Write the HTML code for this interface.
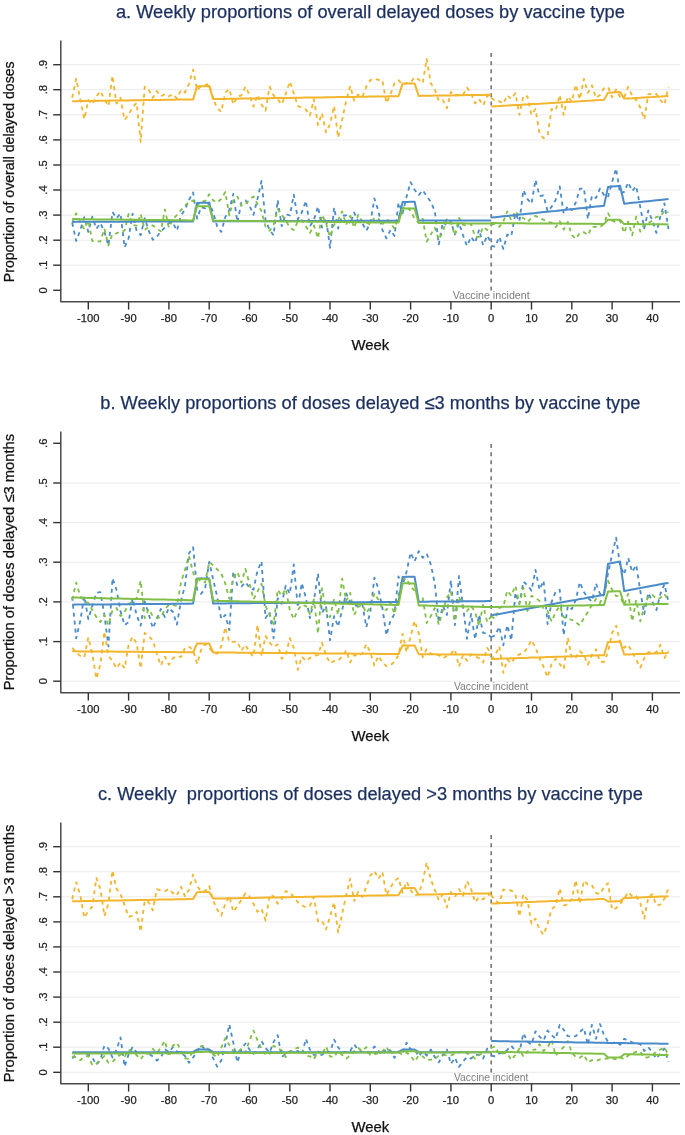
<!DOCTYPE html>
<html><head><meta charset="utf-8"><style>
html,body{margin:0;padding:0;background:#fff;}
svg{display:block;will-change:transform;}
text{font-family:"Liberation Sans",sans-serif;}
.tk{font-size:11.2px;fill:#222;stroke:#222;stroke-width:0.25px;}
.vi{font-size:11.1px;fill:#7d7d7d;}
.wk{font-size:14.9px;fill:#111;stroke:#111;stroke-width:0.25px;}
.yt{fill:#111;stroke:#111;stroke-width:0.25px;}
.ti{font-size:18.25px;fill:#1b2f5e;stroke:#1b2f5e;stroke-width:0.25px;}
</style></head><body>
<svg width="685" height="1135" viewBox="0 0 685 1135">
<rect width="685" height="1135" fill="#fff"/>
<line x1="61.5" x2="680" y1="265.2" y2="265.2" stroke="#eaeaea" stroke-width="1"/>
<line x1="61.5" x2="680" y1="240.2" y2="240.2" stroke="#eaeaea" stroke-width="1"/>
<line x1="61.5" x2="680" y1="215.1" y2="215.1" stroke="#eaeaea" stroke-width="1"/>
<line x1="61.5" x2="680" y1="190.0" y2="190.0" stroke="#eaeaea" stroke-width="1"/>
<line x1="61.5" x2="680" y1="165.0" y2="165.0" stroke="#eaeaea" stroke-width="1"/>
<line x1="61.5" x2="680" y1="139.9" y2="139.9" stroke="#eaeaea" stroke-width="1"/>
<line x1="61.5" x2="680" y1="114.8" y2="114.8" stroke="#eaeaea" stroke-width="1"/>
<line x1="61.5" x2="680" y1="89.7" y2="89.7" stroke="#eaeaea" stroke-width="1"/>
<line x1="61.5" x2="680" y1="64.7" y2="64.7" stroke="#eaeaea" stroke-width="1"/>
<line x1="491.2" x2="491.2" y1="53.1" y2="290.6" stroke="#7a7a7a" stroke-width="1.7" stroke-dasharray="4 4.05"/>
<polyline points="72.2,97.8 76.2,78.6 80.2,99.2 84.3,119.1 88.3,100.0 92.3,104.4 96.4,96.3 100.4,91.1 104.4,99.2 108.4,105.9 112.5,75.6 116.5,103.7 120.5,97.8 124.6,119.9 128.6,114.7 132.6,107.3 136.6,102.9 140.7,142.0 144.7,86.7 148.7,89.6 152.8,97.8 156.8,91.1 160.8,96.3 164.9,94.1 168.9,96.3 172.9,94.1 176.9,98.5 181.0,90.1 185.0,92.6 189.0,83.8 193.1,69.7 197.1,90.4 201.1,86.0 205.1,85.2 209.2,83.8 213.2,99.2 217.2,108.1 221.3,111.8 225.3,92.6 229.3,88.9 233.3,104.4 237.4,96.3 241.4,95.5 245.4,86.7 249.5,94.8 253.5,106.6 257.5,94.8 261.5,104.4 265.6,110.7 269.6,86.7 273.6,95.5 277.7,99.2 281.7,104.4 285.7,94.1 289.8,81.5 293.8,93.3 297.8,105.9 301.8,107.8 305.9,109.6 309.9,115.5 313.9,99.2 318.0,125.0 322.0,113.2 326.0,132.4 330.0,124.3 334.1,105.9 338.1,137.6 342.1,119.9 346.2,100.7 350.2,86.0 354.2,100.7 358.2,94.5 362.3,97.0 366.3,86.7 370.3,80.1 374.4,78.8 378.4,79.9 382.4,80.2 386.4,103.1 390.5,94.2 394.5,83.2 398.5,80.2 402.6,84.6 406.6,83.2 410.6,82.4 414.6,77.3 418.7,79.5 422.7,83.2 426.7,58.8 430.8,83.2 434.8,89.5 438.8,100.9 442.9,100.1 446.9,108.2 450.9,92.0 454.9,95.7 459.0,95.0 463.0,95.0 467.0,87.6 471.1,93.5 475.1,103.4 479.1,99.2 483.1,105.4 487.2,96.3 491.2,93.9" fill="none" stroke="#f2b52b" stroke-width="1.8" stroke-linejoin="round" stroke-dasharray="4 4"/>
<polyline points="491.2,97.9 495.2,100.9 499.3,101.3 503.3,103.7 507.3,95.3 511.3,99.0 515.4,93.1 519.4,114.9 523.4,95.7 527.5,96.4 531.5,114.9 535.5,109.0 539.5,133.3 543.6,138.2 547.6,135.5 551.6,109.0 555.7,110.5 559.7,95.0 563.7,114.9 567.8,96.4 571.8,101.6 575.8,84.6 579.8,99.4 583.9,78.8 587.9,92.8 591.9,85.4 596.0,97.9 600.0,95.0 604.0,88.3 608.0,86.9 612.1,97.2 616.1,89.5 620.1,97.2 624.2,97.2 628.2,86.9 632.2,95.7 636.2,100.1 640.3,107.5 644.3,119.3 648.3,94.2 652.4,94.2 656.4,93.9 660.4,100.1 664.4,104.6 668.5,86.9" fill="none" stroke="#f2b52b" stroke-width="1.8" stroke-linejoin="round" stroke-dasharray="4 4"/>
<polyline points="72.2,222.8 76.2,241.0 80.2,230.4 84.3,217.1 88.3,231.9 92.3,216.7 96.4,228.8 100.4,223.2 104.4,231.9 108.4,245.5 112.5,212.1 116.5,218.2 120.5,213.6 124.6,247.4 128.6,238.3 132.6,213.6 136.6,230.7 140.7,235.2 144.7,218.2 148.7,230.7 152.8,239.8 156.8,236.8 160.8,231.4 164.9,227.6 168.9,223.1 172.9,222.8 176.9,230.7 181.0,215.5 185.0,209.5 189.0,200.0 193.1,192.4 197.1,218.6 201.1,207.2 205.1,208.3 209.2,202.6 213.2,212.5 217.2,226.6 221.3,231.9 225.3,217.1 229.3,210.2 233.3,193.9 237.4,222.4 241.4,202.6 245.4,200.4 249.5,205.7 253.5,214.8 257.5,198.8 261.5,181.0 265.6,220.1 269.6,230.0 273.6,235.3 277.7,200.0 281.7,226.2 285.7,214.0 289.8,215.5 293.8,194.7 297.8,219.3 301.8,212.5 305.9,200.7 309.9,226.2 313.9,220.1 318.0,206.4 322.0,227.7 326.0,217.8 330.0,247.8 334.1,207.6 338.1,228.5 342.1,215.5 346.2,215.5 350.2,223.9 354.2,212.5 358.2,221.6 362.3,223.1 366.3,230.7 370.3,223.1 374.4,198.5 378.4,211.0 382.4,230.0 386.4,238.3 390.5,230.0 394.5,236.0 398.5,202.6 402.6,213.3 406.6,196.6 410.6,182.1 414.6,189.7 418.7,195.1 422.7,190.1 426.7,196.2 430.8,201.9 434.8,211.0 438.8,244.4 442.9,221.6 446.9,225.8 450.9,221.6 454.9,234.5 459.0,223.1 463.0,235.3 467.0,245.9 471.1,236.8 475.1,242.9 479.1,229.6 483.1,245.2 487.2,235.7 491.2,242.9" fill="none" stroke="#4a8bca" stroke-width="1.8" stroke-linejoin="round" stroke-dasharray="4 4"/>
<polyline points="491.2,245.9 495.2,246.7 499.3,236.8 503.3,248.9 507.3,234.5 511.3,236.0 515.4,213.3 519.4,221.6 523.4,190.1 527.5,199.2 531.5,203.7 535.5,179.8 539.5,196.1 543.6,195.4 547.6,211.3 551.6,206.8 555.7,199.9 559.7,186.3 563.7,213.6 567.8,206.0 571.8,210.1 575.8,202.5 579.8,188.8 583.9,188.1 587.9,219.2 591.9,195.7 596.0,198.0 600.0,188.5 604.0,194.9 608.0,197.2 612.1,182.0 616.1,168.4 620.1,193.4 624.2,191.9 628.2,182.4 632.2,191.1 636.2,186.2 640.3,207.1 644.3,228.3 648.3,210.5 652.4,220.7 656.4,232.9 660.4,216.2 664.4,203.3 668.5,229.1" fill="none" stroke="#4a8bca" stroke-width="1.8" stroke-linejoin="round" stroke-dasharray="4 4"/>
<polyline points="72.2,222.8 76.2,213.3 80.2,221.3 84.3,229.2 88.3,220.5 92.3,241.0 96.4,241.4 100.4,241.4 104.4,228.8 108.4,245.5 112.5,233.8 116.5,233.4 120.5,231.4 124.6,230.7 128.6,214.0 132.6,225.0 136.6,225.7 140.7,214.0 144.7,229.9 148.7,226.9 152.8,225.4 156.8,228.4 160.8,231.4 164.9,209.4 168.9,227.7 172.9,219.0 176.9,215.2 181.0,210.2 185.0,205.7 189.0,201.9 193.1,200.4 197.1,205.7 201.1,201.1 205.1,201.1 209.2,194.3 213.2,200.4 217.2,202.6 221.3,198.8 225.3,192.0 229.3,215.5 233.3,200.4 237.4,196.6 241.4,205.7 245.4,204.9 249.5,199.2 253.5,196.6 257.5,204.2 261.5,211.0 265.6,226.9 269.6,230.7 273.6,224.7 277.7,209.1 281.7,214.8 285.7,220.1 289.8,227.7 293.8,230.0 297.8,221.6 301.8,220.1 305.9,226.2 309.9,233.0 313.9,225.4 318.0,238.3 322.0,214.8 326.0,223.1 330.0,236.8 334.1,224.7 338.1,220.1 342.1,211.4 346.2,224.7 350.2,215.9 354.2,227.7 358.2,214.8 362.3,221.6 366.3,222.4 370.3,224.7 374.4,217.8 378.4,218.6 382.4,224.7 386.4,218.6 390.5,223.1 394.5,228.5 398.5,217.1 402.6,208.0 406.6,206.4 410.6,211.0 414.6,218.6 418.7,223.1 422.7,218.6 426.7,241.7 430.8,234.5 434.8,227.7 438.8,239.8 442.9,231.5 446.9,218.6 450.9,222.4 454.9,235.3 459.0,217.8 463.0,224.7 467.0,225.8 471.1,223.9 475.1,236.8 479.1,236.8 483.1,226.9 487.2,230.0 491.2,226.9" fill="none" stroke="#80bf45" stroke-width="1.8" stroke-linejoin="round" stroke-dasharray="4 4"/>
<polyline points="491.2,224.7 495.2,223.9 499.3,226.9 503.3,221.6 507.3,211.4 511.3,220.1 515.4,211.0 519.4,217.1 523.4,218.1 527.5,221.9 531.5,218.1 535.5,215.9 539.5,218.1 543.6,219.7 547.6,221.9 551.6,222.7 555.7,227.2 559.7,221.2 563.7,229.5 567.8,221.9 571.8,235.2 575.8,238.9 579.8,232.9 583.9,232.1 587.9,235.2 591.9,226.8 596.0,226.8 600.0,227.2 604.0,223.8 608.0,213.1 612.1,220.7 616.1,222.2 620.1,220.7 624.2,232.9 628.2,221.5 632.2,235.2 636.2,216.6 640.3,231.7 644.3,224.5 648.3,223.0 652.4,220.7 656.4,216.9 660.4,216.6 664.4,210.9 668.5,212.4" fill="none" stroke="#80bf45" stroke-width="1.8" stroke-linejoin="round" stroke-dasharray="4 4"/>
<polyline points="72.2,101.3 76.2,101.2 80.2,101.1 84.3,101.1 88.3,101.0 92.3,101.0 96.4,100.9 100.4,100.8 104.4,100.8 108.4,100.7 112.5,100.6 116.5,100.6 120.5,100.5 124.6,100.5 128.6,100.4 132.6,100.3 136.6,100.3 140.7,100.2 144.7,100.1 148.7,100.1 152.8,100.0 156.8,100.0 160.8,99.9 164.9,99.8 168.9,99.8 172.9,99.7 176.9,99.6 181.0,99.6 185.0,99.5 189.0,99.5 193.1,99.4 197.1,86.3 201.1,86.2 205.1,86.2 209.2,86.1 213.2,99.1 217.2,99.0 221.3,99.0 225.3,98.9 229.3,98.8 233.3,98.8 237.4,98.7 241.4,98.6 245.4,98.6 249.5,98.5 253.5,98.5 257.5,98.4 261.5,98.3 265.6,98.3 269.6,98.2 273.6,98.1 277.7,98.1 281.7,98.0 285.7,98.0 289.8,97.9 293.8,97.8 297.8,97.8 301.8,97.7 305.9,97.6 309.9,97.6 313.9,97.5 318.0,97.4 322.0,97.4 326.0,97.3 330.0,97.3 334.1,97.2 338.1,97.1 342.1,97.1 346.2,97.0 350.2,96.9 354.2,96.9 358.2,96.8 362.3,96.8 366.3,96.7 370.3,96.6 374.4,96.6 378.4,96.5 382.4,96.4 386.4,96.4 390.5,96.3 394.5,96.3 398.5,96.2 402.6,83.6 406.6,83.5 410.6,83.5 414.6,83.4 418.7,95.9 422.7,95.8 426.7,95.8 430.8,95.7 434.8,95.6 438.8,95.6 442.9,95.5 446.9,95.4 450.9,95.4 454.9,95.3 459.0,95.3 463.0,95.2 467.0,95.1 471.1,95.1 475.1,95.0 479.1,94.9 483.1,94.9 487.2,94.8 491.2,94.8" fill="none" stroke="#f2b52b" stroke-width="2" stroke-linejoin="round"/>
<polyline points="491.2,106.5 495.2,106.3 499.3,106.1 503.3,105.8 507.3,105.6 511.3,105.3 515.4,105.1 519.4,104.9 523.4,104.6 527.5,104.4 531.5,104.1 535.5,103.9 539.5,103.7 543.6,103.4 547.6,103.2 551.6,102.9 555.7,102.7 559.7,102.5 563.7,102.2 567.8,102.0 571.8,101.8 575.8,101.5 579.8,101.3 583.9,101.0 587.9,100.8 591.9,100.6 596.0,100.3 600.0,100.1 604.0,99.8 608.0,92.8 612.1,92.6 616.1,92.3 620.1,92.1 624.2,98.6 628.2,98.4 632.2,98.2 636.2,97.9 640.3,97.7 644.3,97.4 648.3,97.2 652.4,97.0 656.4,96.7 660.4,96.5 664.4,96.2 668.5,96.0" fill="none" stroke="#f2b52b" stroke-width="2" stroke-linejoin="round"/>
<polyline points="72.2,221.9 76.2,221.8 80.2,221.8 84.3,221.8 88.3,221.8 92.3,221.8 96.4,221.8 100.4,221.8 104.4,221.7 108.4,221.7 112.5,221.7 116.5,221.7 120.5,221.7 124.6,221.7 128.6,221.7 132.6,221.6 136.6,221.6 140.7,221.6 144.7,221.6 148.7,221.6 152.8,221.6 156.8,221.6 160.8,221.5 164.9,221.5 168.9,221.5 172.9,221.5 176.9,221.5 181.0,221.5 185.0,221.5 189.0,221.4 193.1,221.4 197.1,202.9 201.1,202.8 205.1,202.8 209.2,202.8 213.2,221.4 217.2,221.3 221.3,221.3 225.3,221.3 229.3,221.3 233.3,221.3 237.4,221.3 241.4,221.3 245.4,221.2 249.5,221.2 253.5,221.2 257.5,221.2 261.5,221.2 265.6,221.2 269.6,221.2 273.6,221.1 277.7,221.1 281.7,221.1 285.7,221.1 289.8,221.1 293.8,221.1 297.8,221.0 301.8,221.0 305.9,221.0 309.9,221.0 313.9,221.0 318.0,221.0 322.0,221.0 326.0,220.9 330.0,220.9 334.1,220.9 338.1,220.9 342.1,220.9 346.2,220.9 350.2,220.9 354.2,220.8 358.2,220.8 362.3,220.8 366.3,220.8 370.3,220.8 374.4,220.8 378.4,220.8 382.4,220.7 386.4,220.7 390.5,220.7 394.5,220.7 398.5,220.7 402.6,201.9 406.6,201.9 410.6,201.8 414.6,201.8 418.7,220.6 422.7,220.6 426.7,220.6 430.8,220.6 434.8,220.6 438.8,220.5 442.9,220.5 446.9,220.5 450.9,220.5 454.9,220.5 459.0,220.5 463.0,220.5 467.0,220.4 471.1,220.4 475.1,220.4 479.1,220.4 483.1,220.4 487.2,220.4 491.2,220.4" fill="none" stroke="#4a8bca" stroke-width="2" stroke-linejoin="round"/>
<polyline points="491.2,217.6 495.2,217.2 499.3,216.8 503.3,216.3 507.3,215.9 511.3,215.5 515.4,215.1 519.4,214.6 523.4,214.2 527.5,213.8 531.5,213.4 535.5,213.0 539.5,212.5 543.6,212.1 547.6,211.7 551.6,211.3 555.7,210.9 559.7,210.4 563.7,210.0 567.8,209.6 571.8,209.2 575.8,208.7 579.8,208.3 583.9,207.9 587.9,207.5 591.9,207.1 596.0,206.6 600.0,206.2 604.0,205.8 608.0,187.1 612.1,186.6 616.1,186.2 620.1,185.8 624.2,203.7 628.2,203.3 632.2,202.8 636.2,202.4 640.3,202.0 644.3,201.6 648.3,201.2 652.4,200.7 656.4,200.3 660.4,199.9 664.4,199.5 668.5,199.0" fill="none" stroke="#4a8bca" stroke-width="2" stroke-linejoin="round"/>
<polyline points="72.2,219.1 76.2,219.1 80.2,219.2 84.3,219.2 88.3,219.3 92.3,219.3 96.4,219.4 100.4,219.4 104.4,219.4 108.4,219.5 112.5,219.5 116.5,219.6 120.5,219.6 124.6,219.7 128.6,219.7 132.6,219.8 136.6,219.8 140.7,219.8 144.7,219.9 148.7,219.9 152.8,220.0 156.8,220.0 160.8,220.1 164.9,220.1 168.9,220.1 172.9,220.2 176.9,220.2 181.0,220.3 185.0,220.3 189.0,220.4 193.1,220.4 197.1,206.2 201.1,206.2 205.1,206.2 209.2,206.3 213.2,220.6 217.2,220.7 221.3,220.7 225.3,220.8 229.3,220.8 233.3,220.8 237.4,220.9 241.4,220.9 245.4,221.0 249.5,221.0 253.5,221.1 257.5,221.1 261.5,221.1 265.6,221.2 269.6,221.2 273.6,221.3 277.7,221.3 281.7,221.4 285.7,221.4 289.8,221.4 293.8,221.5 297.8,221.5 301.8,221.6 305.9,221.6 309.9,221.7 313.9,221.7 318.0,221.7 322.0,221.8 326.0,221.8 330.0,221.9 334.1,221.9 338.1,222.0 342.1,222.0 346.2,222.1 350.2,222.1 354.2,222.1 358.2,222.2 362.3,222.2 366.3,222.3 370.3,222.3 374.4,222.4 378.4,222.4 382.4,222.4 386.4,222.5 390.5,222.5 394.5,222.6 398.5,222.6 402.6,208.4 406.6,208.4 410.6,208.5 414.6,208.5 418.7,222.8 422.7,222.9 426.7,222.9 430.8,223.0 434.8,223.0 438.8,223.0 442.9,223.1 446.9,223.1 450.9,223.2 454.9,223.2 459.0,223.3 463.0,223.3 467.0,223.4 471.1,223.4 475.1,223.4 479.1,223.5 483.1,223.5 487.2,223.6 491.2,223.6" fill="none" stroke="#80bf45" stroke-width="2" stroke-linejoin="round"/>
<polyline points="491.2,223.1 495.2,223.1 499.3,223.2 503.3,223.2 507.3,223.2 511.3,223.3 515.4,223.3 519.4,223.3 523.4,223.3 527.5,223.4 531.5,223.4 535.5,223.4 539.5,223.5 543.6,223.5 547.6,223.5 551.6,223.5 555.7,223.6 559.7,223.6 563.7,223.6 567.8,223.7 571.8,223.7 575.8,223.7 579.8,223.7 583.9,223.8 587.9,223.8 591.9,223.8 596.0,223.9 600.0,223.9 604.0,223.9 608.0,219.7 612.1,219.7 616.1,219.7 620.1,219.8 624.2,224.1 628.2,224.1 632.2,224.1 636.2,224.1 640.3,224.2 644.3,224.2 648.3,224.2 652.4,224.3 656.4,224.3 660.4,224.3 664.4,224.3 668.5,224.4" fill="none" stroke="#80bf45" stroke-width="2" stroke-linejoin="round"/>
<path d="M60.8,40.5 V301.8 H680" fill="none" stroke="#4a4a4a" stroke-width="1.5" stroke-linejoin="round"/>
<line x1="53.2" x2="60.8" y1="290.3" y2="290.3" stroke="#333" stroke-width="1.4"/>
<text transform="translate(47.3,290.3) rotate(-90)" text-anchor="middle" class="tk">0</text>
<line x1="53.2" x2="60.8" y1="265.2" y2="265.2" stroke="#333" stroke-width="1.4"/>
<text transform="translate(47.3,265.2) rotate(-90)" text-anchor="middle" class="tk">.1</text>
<line x1="53.2" x2="60.8" y1="240.2" y2="240.2" stroke="#333" stroke-width="1.4"/>
<text transform="translate(47.3,240.2) rotate(-90)" text-anchor="middle" class="tk">.2</text>
<line x1="53.2" x2="60.8" y1="215.1" y2="215.1" stroke="#333" stroke-width="1.4"/>
<text transform="translate(47.3,215.1) rotate(-90)" text-anchor="middle" class="tk">.3</text>
<line x1="53.2" x2="60.8" y1="190.0" y2="190.0" stroke="#333" stroke-width="1.4"/>
<text transform="translate(47.3,190.0) rotate(-90)" text-anchor="middle" class="tk">.4</text>
<line x1="53.2" x2="60.8" y1="165.0" y2="165.0" stroke="#333" stroke-width="1.4"/>
<text transform="translate(47.3,165.0) rotate(-90)" text-anchor="middle" class="tk">.5</text>
<line x1="53.2" x2="60.8" y1="139.9" y2="139.9" stroke="#333" stroke-width="1.4"/>
<text transform="translate(47.3,139.9) rotate(-90)" text-anchor="middle" class="tk">.6</text>
<line x1="53.2" x2="60.8" y1="114.8" y2="114.8" stroke="#333" stroke-width="1.4"/>
<text transform="translate(47.3,114.8) rotate(-90)" text-anchor="middle" class="tk">.7</text>
<line x1="53.2" x2="60.8" y1="89.7" y2="89.7" stroke="#333" stroke-width="1.4"/>
<text transform="translate(47.3,89.7) rotate(-90)" text-anchor="middle" class="tk">.8</text>
<line x1="53.2" x2="60.8" y1="64.7" y2="64.7" stroke="#333" stroke-width="1.4"/>
<text transform="translate(47.3,64.7) rotate(-90)" text-anchor="middle" class="tk">.9</text>
<line x1="88.3" x2="88.3" y1="301.8" y2="309.6" stroke="#333" stroke-width="1.4"/>
<text x="88.3" y="322.3" text-anchor="middle" class="tk">-100</text>
<line x1="128.6" x2="128.6" y1="301.8" y2="309.6" stroke="#333" stroke-width="1.4"/>
<text x="128.6" y="322.3" text-anchor="middle" class="tk">-90</text>
<line x1="168.9" x2="168.9" y1="301.8" y2="309.6" stroke="#333" stroke-width="1.4"/>
<text x="168.9" y="322.3" text-anchor="middle" class="tk">-80</text>
<line x1="209.2" x2="209.2" y1="301.8" y2="309.6" stroke="#333" stroke-width="1.4"/>
<text x="209.2" y="322.3" text-anchor="middle" class="tk">-70</text>
<line x1="249.5" x2="249.5" y1="301.8" y2="309.6" stroke="#333" stroke-width="1.4"/>
<text x="249.5" y="322.3" text-anchor="middle" class="tk">-60</text>
<line x1="289.8" x2="289.8" y1="301.8" y2="309.6" stroke="#333" stroke-width="1.4"/>
<text x="289.8" y="322.3" text-anchor="middle" class="tk">-50</text>
<line x1="330.0" x2="330.0" y1="301.8" y2="309.6" stroke="#333" stroke-width="1.4"/>
<text x="330.0" y="322.3" text-anchor="middle" class="tk">-40</text>
<line x1="370.3" x2="370.3" y1="301.8" y2="309.6" stroke="#333" stroke-width="1.4"/>
<text x="370.3" y="322.3" text-anchor="middle" class="tk">-30</text>
<line x1="410.6" x2="410.6" y1="301.8" y2="309.6" stroke="#333" stroke-width="1.4"/>
<text x="410.6" y="322.3" text-anchor="middle" class="tk">-20</text>
<line x1="450.9" x2="450.9" y1="301.8" y2="309.6" stroke="#333" stroke-width="1.4"/>
<text x="450.9" y="322.3" text-anchor="middle" class="tk">-10</text>
<line x1="491.2" x2="491.2" y1="301.8" y2="309.6" stroke="#333" stroke-width="1.4"/>
<text x="491.2" y="322.3" text-anchor="middle" class="tk">0</text>
<line x1="531.5" x2="531.5" y1="301.8" y2="309.6" stroke="#333" stroke-width="1.4"/>
<text x="531.5" y="322.3" text-anchor="middle" class="tk">10</text>
<line x1="571.8" x2="571.8" y1="301.8" y2="309.6" stroke="#333" stroke-width="1.4"/>
<text x="571.8" y="322.3" text-anchor="middle" class="tk">20</text>
<line x1="612.1" x2="612.1" y1="301.8" y2="309.6" stroke="#333" stroke-width="1.4"/>
<text x="612.1" y="322.3" text-anchor="middle" class="tk">30</text>
<line x1="652.4" x2="652.4" y1="301.8" y2="309.6" stroke="#333" stroke-width="1.4"/>
<text x="652.4" y="322.3" text-anchor="middle" class="tk">40</text>
<text x="491.2" y="298.6" text-anchor="middle" class="vi" style="font-size:10.7px">Vaccine incident</text>
<text x="370.3" y="350" text-anchor="middle" class="wk">Week</text>
<text transform="translate(13.9,171.8) rotate(-90)" text-anchor="middle" class="yt" style="font-size:14.08px">Proportion of overall delayed doses</text>
<text x="370.4" y="18" text-anchor="middle" class="ti">a. Weekly proportions of overall delayed doses by vaccine type</text>
<line x1="61.5" x2="680" y1="681.2" y2="681.2" stroke="#eaeaea" stroke-width="1"/>
<line x1="61.5" x2="680" y1="641.6" y2="641.6" stroke="#eaeaea" stroke-width="1"/>
<line x1="61.5" x2="680" y1="601.9" y2="601.9" stroke="#eaeaea" stroke-width="1"/>
<line x1="61.5" x2="680" y1="562.2" y2="562.2" stroke="#eaeaea" stroke-width="1"/>
<line x1="61.5" x2="680" y1="522.6" y2="522.6" stroke="#eaeaea" stroke-width="1"/>
<line x1="61.5" x2="680" y1="483.0" y2="483.0" stroke="#eaeaea" stroke-width="1"/>
<line x1="491.2" x2="491.2" y1="444.1" y2="681.6" stroke="#7a7a7a" stroke-width="1.7" stroke-dasharray="4 4.05"/>
<polyline points="72.2,647.8 76.2,652.2 80.2,655.9 84.3,657.3 88.3,637.4 92.3,653.7 96.4,678.7 100.4,664.0 104.4,631.5 108.4,655.9 112.5,661.0 116.5,668.4 120.5,662.5 124.6,668.4 128.6,644.8 132.6,636.7 136.6,643.3 140.7,668.4 144.7,633.0 148.7,636.0 152.8,640.4 156.8,653.7 160.8,665.5 164.9,656.6 168.9,664.7 172.9,658.1 176.9,656.3 181.0,656.9 185.0,647.8 189.0,646.6 193.1,650.0 197.1,664.0 201.1,650.0 205.1,644.1 209.2,647.8 213.2,652.9 217.2,653.7 221.3,646.3 225.3,627.1 229.3,641.9 233.3,641.9 237.4,641.6 241.4,650.7 245.4,644.8 249.5,652.2 253.5,656.6 257.5,624.9 261.5,655.9 265.6,636.0 269.6,642.6 273.6,647.0 277.7,644.5 281.7,658.8 285.7,655.1 289.8,638.2 293.8,647.8 297.8,669.9 301.8,656.6 305.9,661.0 309.9,658.1 313.9,655.9 318.0,655.1 322.0,642.6 326.0,655.1 330.0,663.2 334.1,661.0 338.1,660.7 342.1,656.6 346.2,650.4 350.2,662.5 354.2,655.1 358.2,655.9 362.3,653.7 366.3,644.1 370.3,652.2 374.4,665.5 378.4,655.9 382.4,662.5 386.4,666.2 390.5,665.2 394.5,661.8 398.5,655.1 402.6,633.8 406.6,652.2 410.6,636.7 414.6,620.9 418.7,633.0 422.7,657.3 426.7,649.2 430.8,653.7 434.8,655.1 438.8,655.1 442.9,658.4 446.9,655.9 450.9,653.7 454.9,649.5 459.0,666.6 463.0,655.1 467.0,660.7 471.1,654.4 475.1,656.6 479.1,658.1 483.1,662.5 487.2,647.8 491.2,653.7" fill="none" stroke="#f2b52b" stroke-width="1.8" stroke-linejoin="round" stroke-dasharray="4 4"/>
<polyline points="491.2,659.6 495.2,655.1 499.3,646.3 503.3,672.8 507.3,659.6 511.3,663.2 515.4,656.6 519.4,654.4 523.4,652.9 527.5,647.8 531.5,640.1 535.5,647.8 539.5,658.1 543.6,666.9 547.6,677.2 551.6,664.0 555.7,658.8 559.7,664.0 563.7,669.1 567.8,637.4 571.8,658.1 575.8,657.3 579.8,651.0 583.9,655.1 587.9,664.7 591.9,655.1 596.0,649.2 600.0,661.8 604.0,661.8 608.0,652.2 612.1,633.0 616.1,625.6 620.1,641.9 624.2,647.8 628.2,644.8 632.2,652.2 636.2,659.6 640.3,667.7 644.3,658.1 648.3,652.2 652.4,651.9 656.4,652.5 660.4,644.8 664.4,658.1 668.5,650.7" fill="none" stroke="#f2b52b" stroke-width="1.8" stroke-linejoin="round" stroke-dasharray="4 4"/>
<polyline points="72.2,596.8 76.2,638.3 80.2,621.1 84.3,596.3 88.3,619.1 92.3,605.9 96.4,592.8 100.4,592.2 104.4,615.0 108.4,646.5 112.5,578.1 116.5,589.7 120.5,611.0 124.6,625.2 128.6,622.1 132.6,598.3 136.6,615.0 140.7,625.7 144.7,601.4 148.7,614.0 152.8,628.2 156.8,619.1 160.8,609.0 164.9,617.1 168.9,608.0 172.9,612.0 176.9,624.7 181.0,600.9 185.0,585.7 189.0,553.2 193.1,547.2 197.1,589.7 201.1,593.8 205.1,588.7 209.2,561.9 213.2,579.6 217.2,596.8 221.3,619.1 225.3,615.0 229.3,630.2 233.3,571.5 237.4,585.7 241.4,586.7 245.4,582.1 249.5,587.7 253.5,589.7 257.5,570.5 261.5,561.3 265.6,618.1 269.6,612.0 273.6,638.3 277.7,598.3 281.7,603.9 285.7,585.7 289.8,593.8 293.8,564.4 297.8,607.4 301.8,583.1 305.9,597.8 309.9,618.1 313.9,600.9 318.0,573.5 322.0,613.0 326.0,605.9 330.0,640.4 334.1,616.1 338.1,626.7 342.1,610.0 346.2,593.3 350.2,601.9 354.2,604.9 358.2,606.4 362.3,603.9 366.3,627.2 370.3,612.0 374.4,577.6 378.4,588.7 382.4,608.0 386.4,635.3 390.5,620.6 394.5,614.0 398.5,576.5 402.6,585.7 406.6,571.5 410.6,552.7 414.6,561.3 418.7,551.2 422.7,557.8 426.7,553.7 430.8,564.4 434.8,583.6 438.8,622.6 442.9,605.9 446.9,615.0 450.9,580.1 454.9,625.2 459.0,576.0 463.0,605.9 467.0,638.9 471.1,614.0 475.1,639.4 479.1,614.5 483.1,632.8 487.2,633.8 491.2,637.3" fill="none" stroke="#4a8bca" stroke-width="1.8" stroke-linejoin="round" stroke-dasharray="4 4"/>
<polyline points="491.2,637.3 495.2,635.3 499.3,626.7 503.3,645.4 507.3,625.2 511.3,640.4 515.4,592.8 519.4,603.9 523.4,581.6 527.5,585.2 531.5,590.7 535.5,570.0 539.5,589.7 543.6,580.6 547.6,624.2 551.6,601.9 555.7,591.7 559.7,589.7 563.7,635.3 567.8,605.9 571.8,609.1 575.8,600.0 579.8,582.2 583.9,591.9 587.9,598.0 591.9,601.5 596.0,583.3 600.0,593.9 604.0,593.9 608.0,573.6 612.1,554.4 616.1,537.7 620.1,565.5 624.2,574.6 628.2,557.9 632.2,572.1 636.2,565.0 640.3,590.9 644.3,614.2 648.3,592.9 652.4,602.0 656.4,610.1 660.4,593.9 664.4,584.3 668.5,602.0" fill="none" stroke="#4a8bca" stroke-width="1.8" stroke-linejoin="round" stroke-dasharray="4 4"/>
<polyline points="72.2,599.8 76.2,582.6 80.2,595.8 84.3,601.9 88.3,602.9 92.3,610.0 96.4,617.1 100.4,622.1 104.4,615.0 108.4,625.2 112.5,610.0 116.5,608.0 120.5,616.1 124.6,612.0 128.6,603.9 132.6,601.9 136.6,597.8 140.7,580.6 144.7,618.1 148.7,609.0 152.8,616.1 156.8,617.6 160.8,617.6 164.9,609.0 168.9,604.9 172.9,604.9 176.9,605.9 181.0,582.6 185.0,569.4 189.0,555.8 193.1,572.5 197.1,583.6 201.1,578.1 205.1,582.6 209.2,561.9 213.2,565.4 217.2,569.4 221.3,573.5 225.3,583.6 229.3,598.8 233.3,577.6 237.4,572.0 241.4,582.6 245.4,568.9 249.5,583.6 253.5,599.3 257.5,591.7 261.5,583.6 265.6,605.9 269.6,615.0 273.6,624.2 277.7,589.7 281.7,595.8 285.7,588.7 289.8,610.0 293.8,619.1 297.8,610.0 301.8,604.9 305.9,605.9 309.9,614.0 313.9,599.3 318.0,633.8 322.0,588.2 326.0,610.0 330.0,617.1 334.1,598.8 338.1,615.0 342.1,578.6 346.2,600.9 350.2,592.8 354.2,615.0 358.2,606.9 362.3,604.9 366.3,613.0 370.3,606.9 374.4,593.3 378.4,599.8 382.4,609.0 386.4,610.0 390.5,602.9 394.5,614.0 398.5,595.8 402.6,579.6 406.6,578.6 410.6,586.7 414.6,590.7 418.7,597.8 422.7,597.8 426.7,623.1 430.8,616.1 434.8,608.0 438.8,624.7 442.9,610.0 446.9,597.8 450.9,591.2 454.9,621.1 459.0,596.3 463.0,608.0 467.0,611.0 471.1,605.9 475.1,612.0 479.1,626.2 483.1,604.9 487.2,622.1 491.2,616.1" fill="none" stroke="#80bf45" stroke-width="1.8" stroke-linejoin="round" stroke-dasharray="4 4"/>
<polyline points="491.2,616.1 495.2,619.1 499.3,608.0 503.3,606.9 507.3,590.7 511.3,595.8 515.4,585.7 519.4,603.9 523.4,587.7 527.5,611.0 531.5,595.8 535.5,597.8 539.5,600.9 543.6,609.0 547.6,611.0 551.6,621.6 555.7,612.0 559.7,605.9 563.7,617.1 567.8,619.1 571.8,619.7 575.8,622.3 579.8,625.3 583.9,618.2 587.9,612.1 591.9,605.0 596.0,599.0 600.0,603.0 604.0,593.9 608.0,580.7 612.1,589.8 616.1,595.9 620.1,596.9 624.2,605.0 628.2,593.9 632.2,621.3 636.2,600.0 640.3,621.3 644.3,606.1 648.3,596.9 652.4,594.9 656.4,599.0 660.4,598.0 664.4,593.9 668.5,601.0" fill="none" stroke="#80bf45" stroke-width="1.8" stroke-linejoin="round" stroke-dasharray="4 4"/>
<polyline points="72.2,651.3 76.2,651.3 80.2,651.4 84.3,651.4 88.3,651.4 92.3,651.5 96.4,651.5 100.4,651.5 104.4,651.6 108.4,651.6 112.5,651.6 116.5,651.7 120.5,651.7 124.6,651.7 128.6,651.8 132.6,651.8 136.6,651.8 140.7,651.9 144.7,651.9 148.7,651.9 152.8,652.0 156.8,652.0 160.8,652.0 164.9,652.1 168.9,652.1 172.9,652.1 176.9,652.2 181.0,652.2 185.0,652.2 189.0,652.3 193.1,652.3 197.1,643.5 201.1,643.5 205.1,643.5 209.2,643.6 213.2,652.5 217.2,652.5 221.3,652.5 225.3,652.6 229.3,652.6 233.3,652.6 237.4,652.7 241.4,652.7 245.4,652.7 249.5,652.8 253.5,652.8 257.5,652.8 261.5,652.9 265.6,652.9 269.6,652.9 273.6,653.0 277.7,653.0 281.7,653.0 285.7,653.1 289.8,653.1 293.8,653.1 297.8,653.2 301.8,653.2 305.9,653.2 309.9,653.3 313.9,653.3 318.0,653.4 322.0,653.4 326.0,653.4 330.0,653.5 334.1,653.5 338.1,653.5 342.1,653.6 346.2,653.6 350.2,653.6 354.2,653.7 358.2,653.7 362.3,653.7 366.3,653.8 370.3,653.8 374.4,653.8 378.4,653.9 382.4,653.9 386.4,653.9 390.5,654.0 394.5,654.0 398.5,654.0 402.6,645.3 406.6,645.4 410.6,645.4 414.6,645.4 418.7,654.2 422.7,654.2 426.7,654.3 430.8,654.3 434.8,654.3 438.8,654.4 442.9,654.4 446.9,654.4 450.9,654.5 454.9,654.5 459.0,654.5 463.0,654.6 467.0,654.6 471.1,654.6 475.1,654.7 479.1,654.7 483.1,654.7 487.2,654.8 491.2,654.8" fill="none" stroke="#f2b52b" stroke-width="2" stroke-linejoin="round"/>
<polyline points="491.2,659.0 495.2,658.9 499.3,658.7 503.3,658.6 507.3,658.5 511.3,658.3 515.4,658.2 519.4,658.0 523.4,657.9 527.5,657.8 531.5,657.6 535.5,657.5 539.5,657.4 543.6,657.2 547.6,657.1 551.6,657.0 555.7,656.8 559.7,656.7 563.7,656.6 567.8,656.4 571.8,656.3 575.8,656.2 579.8,656.0 583.9,655.9 587.9,655.8 591.9,655.6 596.0,655.5 600.0,655.3 604.0,655.2 608.0,642.0 612.1,641.9 616.1,641.7 620.1,641.6 624.2,654.5 628.2,654.4 632.2,654.3 636.2,654.1 640.3,654.0 644.3,653.9 648.3,653.7 652.4,653.6 656.4,653.5 660.4,653.3 664.4,653.2 668.5,653.0" fill="none" stroke="#f2b52b" stroke-width="2" stroke-linejoin="round"/>
<polyline points="72.2,604.7 76.2,604.6 80.2,604.6 84.3,604.6 88.3,604.5 92.3,604.5 96.4,604.5 100.4,604.4 104.4,604.4 108.4,604.4 112.5,604.3 116.5,604.3 120.5,604.3 124.6,604.2 128.6,604.2 132.6,604.2 136.6,604.1 140.7,604.1 144.7,604.1 148.7,604.0 152.8,604.0 156.8,604.0 160.8,603.9 164.9,603.9 168.9,603.9 172.9,603.8 176.9,603.8 181.0,603.7 185.0,603.7 189.0,603.7 193.1,603.6 197.1,578.6 201.1,578.6 205.1,578.6 209.2,578.5 213.2,603.5 217.2,603.4 221.3,603.4 225.3,603.4 229.3,603.3 233.3,603.3 237.4,603.3 241.4,603.2 245.4,603.2 249.5,603.2 253.5,603.1 257.5,603.1 261.5,603.1 265.6,603.0 269.6,603.0 273.6,603.0 277.7,602.9 281.7,602.9 285.7,602.9 289.8,602.8 293.8,602.8 297.8,602.8 301.8,602.7 305.9,602.7 309.9,602.7 313.9,602.6 318.0,602.6 322.0,602.5 326.0,602.5 330.0,602.5 334.1,602.4 338.1,602.4 342.1,602.4 346.2,602.3 350.2,602.3 354.2,602.3 358.2,602.2 362.3,602.2 366.3,602.2 370.3,602.1 374.4,602.1 378.4,602.1 382.4,602.0 386.4,602.0 390.5,602.0 394.5,601.9 398.5,601.9 402.6,576.9 406.6,576.8 410.6,576.8 414.6,576.8 418.7,601.7 422.7,601.7 426.7,601.7 430.8,601.6 434.8,601.6 438.8,601.6 442.9,601.5 446.9,601.5 450.9,601.5 454.9,601.4 459.0,601.4 463.0,601.3 467.0,601.3 471.1,601.3 475.1,601.2 479.1,601.2 483.1,601.2 487.2,601.1 491.2,601.1" fill="none" stroke="#4a8bca" stroke-width="2" stroke-linejoin="round"/>
<polyline points="491.2,615.4 495.2,614.6 499.3,613.9 503.3,613.2 507.3,612.4 511.3,611.7 515.4,610.9 519.4,610.2 523.4,609.5 527.5,608.7 531.5,608.0 535.5,607.3 539.5,606.5 543.6,605.8 547.6,605.0 551.6,604.3 555.7,603.6 559.7,602.8 563.7,602.1 567.8,601.3 571.8,600.6 575.8,599.9 579.8,599.1 583.9,598.4 587.9,597.6 591.9,596.9 596.0,596.2 600.0,595.4 604.0,594.7 608.0,563.8 612.1,563.1 616.1,562.3 620.1,561.6 624.2,591.0 628.2,590.3 632.2,589.5 636.2,588.8 640.3,588.0 644.3,587.3 648.3,586.6 652.4,585.8 656.4,585.1 660.4,584.3 664.4,583.6 668.5,582.9" fill="none" stroke="#4a8bca" stroke-width="2" stroke-linejoin="round"/>
<polyline points="72.2,597.5 76.2,597.6 80.2,597.7 84.3,597.8 88.3,597.9 92.3,598.0 96.4,598.1 100.4,598.2 104.4,598.3 108.4,598.4 112.5,598.5 116.5,598.5 120.5,598.6 124.6,598.7 128.6,598.8 132.6,598.9 136.6,599.0 140.7,599.1 144.7,599.2 148.7,599.3 152.8,599.4 156.8,599.5 160.8,599.6 164.9,599.6 168.9,599.7 172.9,599.8 176.9,599.9 181.0,600.0 185.0,600.1 189.0,600.2 193.1,600.3 197.1,579.0 201.1,579.1 205.1,579.1 209.2,579.2 213.2,600.7 217.2,600.8 221.3,600.9 225.3,601.0 229.3,601.1 233.3,601.2 237.4,601.3 241.4,601.4 245.4,601.5 249.5,601.6 253.5,601.7 257.5,601.7 261.5,601.8 265.6,601.9 269.6,602.0 273.6,602.1 277.7,602.2 281.7,602.3 285.7,602.4 289.8,602.5 293.8,602.6 297.8,602.7 301.8,602.8 305.9,602.8 309.9,602.9 313.9,603.0 318.0,603.1 322.0,603.2 326.0,603.3 330.0,603.4 334.1,603.5 338.1,603.6 342.1,603.7 346.2,603.8 350.2,603.9 354.2,603.9 358.2,604.0 362.3,604.1 366.3,604.2 370.3,604.3 374.4,604.4 378.4,604.5 382.4,604.6 386.4,604.7 390.5,604.8 394.5,604.9 398.5,605.0 402.6,583.2 406.6,583.3 410.6,583.4 414.6,583.5 418.7,605.4 422.7,605.5 426.7,605.6 430.8,605.7 434.8,605.8 438.8,605.9 442.9,606.0 446.9,606.0 450.9,606.1 454.9,606.2 459.0,606.3 463.0,606.4 467.0,606.5 471.1,606.6 475.1,606.7 479.1,606.8 483.1,606.9 487.2,607.0 491.2,607.1" fill="none" stroke="#80bf45" stroke-width="2" stroke-linejoin="round"/>
<polyline points="491.2,607.1 495.2,607.0 499.3,606.9 503.3,606.8 507.3,606.8 511.3,606.7 515.4,606.6 519.4,606.5 523.4,606.5 527.5,606.4 531.5,606.3 535.5,606.3 539.5,606.2 543.6,606.1 547.6,606.0 551.6,606.0 555.7,605.9 559.7,605.8 563.7,605.8 567.8,605.7 571.8,605.6 575.8,605.5 579.8,605.5 583.9,605.4 587.9,605.3 591.9,605.3 596.0,605.2 600.0,605.1 604.0,605.0 608.0,591.5 612.1,591.4 616.1,591.3 620.1,591.3 624.2,604.7 628.2,604.6 632.2,604.5 636.2,604.5 640.3,604.4 644.3,604.3 648.3,604.2 652.4,604.2 656.4,604.1 660.4,604.0 664.4,604.0 668.5,603.9" fill="none" stroke="#80bf45" stroke-width="2" stroke-linejoin="round"/>
<path d="M60.8,431.5 V692.8 H680" fill="none" stroke="#4a4a4a" stroke-width="1.5" stroke-linejoin="round"/>
<line x1="53.2" x2="60.8" y1="681.2" y2="681.2" stroke="#333" stroke-width="1.4"/>
<text transform="translate(47.3,681.2) rotate(-90)" text-anchor="middle" class="tk">0</text>
<line x1="53.2" x2="60.8" y1="641.6" y2="641.6" stroke="#333" stroke-width="1.4"/>
<text transform="translate(47.3,641.6) rotate(-90)" text-anchor="middle" class="tk">.1</text>
<line x1="53.2" x2="60.8" y1="601.9" y2="601.9" stroke="#333" stroke-width="1.4"/>
<text transform="translate(47.3,601.9) rotate(-90)" text-anchor="middle" class="tk">.2</text>
<line x1="53.2" x2="60.8" y1="562.2" y2="562.2" stroke="#333" stroke-width="1.4"/>
<text transform="translate(47.3,562.2) rotate(-90)" text-anchor="middle" class="tk">.3</text>
<line x1="53.2" x2="60.8" y1="522.6" y2="522.6" stroke="#333" stroke-width="1.4"/>
<text transform="translate(47.3,522.6) rotate(-90)" text-anchor="middle" class="tk">.4</text>
<line x1="53.2" x2="60.8" y1="483.0" y2="483.0" stroke="#333" stroke-width="1.4"/>
<text transform="translate(47.3,483.0) rotate(-90)" text-anchor="middle" class="tk">.5</text>
<line x1="53.2" x2="60.8" y1="443.3" y2="443.3" stroke="#333" stroke-width="1.4"/>
<text transform="translate(47.3,443.3) rotate(-90)" text-anchor="middle" class="tk">.6</text>
<line x1="88.3" x2="88.3" y1="692.8" y2="700.6" stroke="#333" stroke-width="1.4"/>
<text x="88.3" y="713.3" text-anchor="middle" class="tk">-100</text>
<line x1="128.6" x2="128.6" y1="692.8" y2="700.6" stroke="#333" stroke-width="1.4"/>
<text x="128.6" y="713.3" text-anchor="middle" class="tk">-90</text>
<line x1="168.9" x2="168.9" y1="692.8" y2="700.6" stroke="#333" stroke-width="1.4"/>
<text x="168.9" y="713.3" text-anchor="middle" class="tk">-80</text>
<line x1="209.2" x2="209.2" y1="692.8" y2="700.6" stroke="#333" stroke-width="1.4"/>
<text x="209.2" y="713.3" text-anchor="middle" class="tk">-70</text>
<line x1="249.5" x2="249.5" y1="692.8" y2="700.6" stroke="#333" stroke-width="1.4"/>
<text x="249.5" y="713.3" text-anchor="middle" class="tk">-60</text>
<line x1="289.8" x2="289.8" y1="692.8" y2="700.6" stroke="#333" stroke-width="1.4"/>
<text x="289.8" y="713.3" text-anchor="middle" class="tk">-50</text>
<line x1="330.0" x2="330.0" y1="692.8" y2="700.6" stroke="#333" stroke-width="1.4"/>
<text x="330.0" y="713.3" text-anchor="middle" class="tk">-40</text>
<line x1="370.3" x2="370.3" y1="692.8" y2="700.6" stroke="#333" stroke-width="1.4"/>
<text x="370.3" y="713.3" text-anchor="middle" class="tk">-30</text>
<line x1="410.6" x2="410.6" y1="692.8" y2="700.6" stroke="#333" stroke-width="1.4"/>
<text x="410.6" y="713.3" text-anchor="middle" class="tk">-20</text>
<line x1="450.9" x2="450.9" y1="692.8" y2="700.6" stroke="#333" stroke-width="1.4"/>
<text x="450.9" y="713.3" text-anchor="middle" class="tk">-10</text>
<line x1="491.2" x2="491.2" y1="692.8" y2="700.6" stroke="#333" stroke-width="1.4"/>
<text x="491.2" y="713.3" text-anchor="middle" class="tk">0</text>
<line x1="531.5" x2="531.5" y1="692.8" y2="700.6" stroke="#333" stroke-width="1.4"/>
<text x="531.5" y="713.3" text-anchor="middle" class="tk">10</text>
<line x1="571.8" x2="571.8" y1="692.8" y2="700.6" stroke="#333" stroke-width="1.4"/>
<text x="571.8" y="713.3" text-anchor="middle" class="tk">20</text>
<line x1="612.1" x2="612.1" y1="692.8" y2="700.6" stroke="#333" stroke-width="1.4"/>
<text x="612.1" y="713.3" text-anchor="middle" class="tk">30</text>
<line x1="652.4" x2="652.4" y1="692.8" y2="700.6" stroke="#333" stroke-width="1.4"/>
<text x="652.4" y="713.3" text-anchor="middle" class="tk">40</text>
<text x="491.2" y="689.6" text-anchor="middle" class="vi" style="font-size:10.35px">Vaccine incident</text>
<text x="370.3" y="741" text-anchor="middle" class="wk">Week</text>
<text transform="translate(13.9,562.1) rotate(-90)" text-anchor="middle" class="yt" style="font-size:14.76px">Proportion of doses delayed ≤3 months</text>
<text x="370.4" y="409" text-anchor="middle" class="ti">b. Weekly proportions of doses delayed ≤3 months by vaccine type</text>
<line x1="61.5" x2="680" y1="1072.3" y2="1072.3" stroke="#eaeaea" stroke-width="1"/>
<line x1="61.5" x2="680" y1="1047.2" y2="1047.2" stroke="#eaeaea" stroke-width="1"/>
<line x1="61.5" x2="680" y1="1022.2" y2="1022.2" stroke="#eaeaea" stroke-width="1"/>
<line x1="61.5" x2="680" y1="997.1" y2="997.1" stroke="#eaeaea" stroke-width="1"/>
<line x1="61.5" x2="680" y1="972.0" y2="972.0" stroke="#eaeaea" stroke-width="1"/>
<line x1="61.5" x2="680" y1="946.9" y2="946.9" stroke="#eaeaea" stroke-width="1"/>
<line x1="61.5" x2="680" y1="921.9" y2="921.9" stroke="#eaeaea" stroke-width="1"/>
<line x1="61.5" x2="680" y1="896.8" y2="896.8" stroke="#eaeaea" stroke-width="1"/>
<line x1="61.5" x2="680" y1="871.7" y2="871.7" stroke="#eaeaea" stroke-width="1"/>
<line x1="61.5" x2="680" y1="846.7" y2="846.7" stroke="#eaeaea" stroke-width="1"/>
<line x1="491.2" x2="491.2" y1="835.1" y2="1072.6" stroke="#7a7a7a" stroke-width="1.7" stroke-dasharray="4 4.05"/>
<polyline points="72.2,899.2 76.2,882.3 80.2,894.8 84.3,917.7 88.3,911.0 92.3,906.6 96.4,877.9 100.4,888.9 104.4,916.2 108.4,903.7 112.5,870.5 116.5,888.9 120.5,894.1 124.6,905.1 128.6,916.9 132.6,915.5 136.6,911.8 140.7,931.7 144.7,900.7 148.7,902.2 152.8,910.3 156.8,889.2 160.8,890.4 164.9,891.1 168.9,888.9 172.9,893.0 176.9,895.5 181.0,886.7 185.0,896.3 189.0,889.6 193.1,874.5 197.1,886.0 201.1,891.1 205.1,891.1 209.2,886.0 213.2,900.7 217.2,909.6 221.3,915.5 225.3,903.7 229.3,896.0 233.3,911.8 237.4,905.9 241.4,900.0 245.4,893.3 249.5,896.3 253.5,903.7 257.5,911.8 261.5,908.8 265.6,920.6 269.6,894.8 273.6,896.3 277.7,903.7 281.7,899.2 285.7,891.1 289.8,892.6 293.8,897.0 297.8,902.2 301.8,905.1 305.9,907.3 309.9,905.9 313.9,897.0 318.0,921.4 322.0,920.6 326.0,929.5 330.0,916.9 334.1,902.2 338.1,932.4 342.1,914.0 346.2,894.8 350.2,878.6 354.2,901.0 358.2,891.9 362.3,897.0 366.3,886.7 370.3,875.6 374.4,871.1 378.4,878.8 382.4,872.1 386.4,895.0 390.5,887.6 394.5,881.0 398.5,878.0 402.6,892.8 406.6,881.7 410.6,889.8 414.6,895.7 418.7,894.2 422.7,881.7 426.7,862.5 430.8,879.5 434.8,889.8 438.8,900.1 442.9,894.2 446.9,907.5 450.9,892.0 454.9,897.2 459.0,889.1 463.0,895.7 467.0,881.0 471.1,889.1 475.1,902.3 479.1,897.2 483.1,899.4 487.2,895.7 491.2,893.5" fill="none" stroke="#f2b52b" stroke-width="1.8" stroke-linejoin="round" stroke-dasharray="4 4"/>
<polyline points="491.2,895.0 495.2,900.9 499.3,903.1 503.3,889.5 507.3,890.5 511.3,890.5 515.4,894.2 519.4,916.4 523.4,894.2 527.5,900.1 531.5,923.7 535.5,918.6 539.5,929.6 543.6,934.8 547.6,923.7 551.6,909.0 555.7,906.0 559.7,888.3 563.7,905.3 567.8,904.6 571.8,898.7 575.8,880.2 579.8,903.8 583.9,880.5 587.9,884.6 591.9,885.1 596.0,892.8 600.0,894.2 604.0,886.9 608.0,883.2 612.1,909.7 616.1,908.2 620.1,903.8 624.2,898.7 628.2,892.0 632.2,896.4 636.2,896.0 640.3,903.1 644.3,918.6 648.3,897.2 652.4,894.2 656.4,905.3 660.4,904.6 664.4,898.7 668.5,888.3" fill="none" stroke="#f2b52b" stroke-width="1.8" stroke-linejoin="round" stroke-dasharray="4 4"/>
<polyline points="72.2,1058.3 76.2,1054.5 80.2,1053.0 84.3,1053.7 88.3,1054.5 92.3,1057.5 96.4,1064.7 100.4,1059.8 104.4,1045.4 108.4,1048.4 112.5,1057.5 116.5,1049.9 120.5,1037.4 124.6,1066.6 128.6,1054.5 132.6,1046.9 136.6,1052.2 140.7,1053.0 144.7,1053.0 148.7,1053.7 152.8,1056.4 156.8,1060.5 160.8,1057.5 164.9,1049.2 168.9,1052.2 172.9,1047.3 176.9,1051.4 181.0,1053.0 185.0,1056.0 189.0,1062.8 193.1,1057.5 197.1,1051.4 201.1,1045.4 205.1,1049.2 209.2,1050.7 213.2,1058.3 217.2,1066.6 221.3,1060.5 225.3,1044.9 229.3,1024.4 233.3,1042.6 237.4,1062.4 241.4,1049.5 245.4,1043.4 249.5,1049.5 253.5,1054.0 257.5,1049.5 261.5,1041.1 265.6,1048.0 269.6,1052.5 273.6,1041.9 277.7,1035.1 281.7,1057.1 285.7,1054.0 289.8,1051.8 293.8,1051.0 297.8,1051.0 301.8,1054.8 305.9,1038.8 309.9,1049.5 313.9,1054.8 318.0,1055.5 322.0,1054.8 326.0,1051.4 330.0,1052.5 334.1,1039.6 338.1,1047.2 342.1,1052.5 346.2,1051.8 350.2,1051.0 354.2,1044.5 358.2,1050.2 362.3,1051.8 366.3,1052.5 370.3,1052.5 374.4,1046.4 378.4,1051.0 382.4,1054.8 386.4,1048.7 390.5,1050.6 394.5,1057.8 398.5,1051.4 402.6,1054.0 406.6,1042.6 410.6,1049.5 414.6,1049.5 418.7,1056.3 422.7,1051.4 426.7,1055.5 430.8,1049.5 434.8,1057.1 438.8,1062.4 442.9,1054.8 446.9,1049.5 450.9,1063.9 454.9,1057.8 459.0,1066.9 463.0,1061.6 467.0,1057.1 471.1,1058.6 475.1,1054.8 479.1,1054.8 483.1,1058.6 487.2,1048.7 491.2,1052.5" fill="none" stroke="#4a8bca" stroke-width="1.8" stroke-linejoin="round" stroke-dasharray="4 4"/>
<polyline points="491.2,1055.5 495.2,1056.3 499.3,1053.3 503.3,1052.5 507.3,1049.9 511.3,1045.7 515.4,1051.0 519.4,1052.5 523.4,1033.2 527.5,1041.9 531.5,1044.5 535.5,1031.3 539.5,1036.6 543.6,1040.4 547.6,1030.5 551.6,1035.1 555.7,1038.8 559.7,1024.8 563.7,1029.7 567.8,1036.2 571.8,1036.6 575.8,1036.2 579.8,1032.0 583.9,1028.2 587.9,1044.9 591.9,1024.8 596.0,1038.8 600.0,1024.0 604.0,1035.1 608.0,1041.9 612.1,1043.4 616.1,1041.9 620.1,1044.9 624.2,1038.8 628.2,1040.4 632.2,1042.3 636.2,1043.4 640.3,1044.2 644.3,1051.0 648.3,1047.2 652.4,1052.5 656.4,1058.6 660.4,1053.3 664.4,1048.7 668.5,1062.0" fill="none" stroke="#4a8bca" stroke-width="1.8" stroke-linejoin="round" stroke-dasharray="4 4"/>
<polyline points="72.2,1056.4 76.2,1057.5 80.2,1060.2 84.3,1056.8 88.3,1056.0 92.3,1065.1 96.4,1063.6 100.4,1059.8 104.4,1056.0 108.4,1062.8 112.5,1062.1 116.5,1057.5 120.5,1054.5 124.6,1057.1 128.6,1049.9 132.6,1051.4 136.6,1055.2 140.7,1059.4 144.7,1053.7 148.7,1053.7 152.8,1048.8 156.8,1053.0 160.8,1047.6 164.9,1040.8 168.9,1056.8 172.9,1045.7 176.9,1042.7 181.0,1050.7 185.0,1058.3 189.0,1059.0 193.1,1049.9 197.1,1051.4 201.1,1046.1 205.1,1046.1 209.2,1050.7 213.2,1054.5 217.2,1057.5 221.3,1047.6 225.3,1038.1 229.3,1044.9 233.3,1051.0 237.4,1052.5 241.4,1048.7 245.4,1052.5 249.5,1040.4 253.5,1030.5 257.5,1040.4 261.5,1048.7 265.6,1054.8 269.6,1054.0 273.6,1045.7 277.7,1048.3 281.7,1050.2 285.7,1057.1 289.8,1051.4 293.8,1049.5 297.8,1047.6 301.8,1049.5 305.9,1055.5 309.9,1056.3 313.9,1059.3 318.0,1051.4 322.0,1054.8 326.0,1046.4 330.0,1056.3 334.1,1057.1 338.1,1051.0 342.1,1054.8 346.2,1058.6 350.2,1055.5 354.2,1051.0 358.2,1048.0 362.3,1051.0 366.3,1047.2 370.3,1055.5 374.4,1054.0 378.4,1053.3 382.4,1051.4 386.4,1046.8 390.5,1054.0 394.5,1051.8 398.5,1052.5 402.6,1054.8 406.6,1052.5 410.6,1055.5 414.6,1061.6 418.7,1055.5 422.7,1056.3 426.7,1060.1 430.8,1059.7 434.8,1059.3 438.8,1055.5 442.9,1054.8 446.9,1055.5 450.9,1055.5 454.9,1054.0 459.0,1052.5 463.0,1051.0 467.0,1053.3 471.1,1054.8 475.1,1058.6 479.1,1054.8 483.1,1053.3 487.2,1051.4 491.2,1051.4" fill="none" stroke="#80bf45" stroke-width="1.8" stroke-linejoin="round" stroke-dasharray="4 4"/>
<polyline points="491.2,1048.0 495.2,1046.4 499.3,1054.4 503.3,1053.3 507.3,1053.3 511.3,1060.0 515.4,1054.8 519.4,1048.7 523.4,1056.7 527.5,1051.4 531.5,1049.9 535.5,1049.5 539.5,1044.2 543.6,1051.0 547.6,1047.2 551.6,1040.0 555.7,1055.5 559.7,1051.0 563.7,1047.2 567.8,1041.1 571.8,1052.5 575.8,1057.1 579.8,1057.8 583.9,1054.8 587.9,1062.4 591.9,1060.1 596.0,1060.9 600.0,1059.3 604.0,1058.6 608.0,1058.6 612.1,1058.6 616.1,1059.3 620.1,1057.1 624.2,1059.3 628.2,1055.5 632.2,1053.3 636.2,1051.8 640.3,1051.4 644.3,1057.8 648.3,1057.1 652.4,1055.5 656.4,1051.4 660.4,1049.5 664.4,1047.2 668.5,1055.2" fill="none" stroke="#80bf45" stroke-width="1.8" stroke-linejoin="round" stroke-dasharray="4 4"/>
<polyline points="72.2,901.3 76.2,901.2 80.2,901.2 84.3,901.1 88.3,901.0 92.3,900.9 96.4,900.9 100.4,900.8 104.4,900.7 108.4,900.6 112.5,900.6 116.5,900.5 120.5,900.4 124.6,900.3 128.6,900.2 132.6,900.2 136.6,900.1 140.7,900.0 144.7,899.9 148.7,899.9 152.8,899.8 156.8,899.7 160.8,899.6 164.9,899.5 168.9,899.5 172.9,899.4 176.9,899.3 181.0,899.2 185.0,899.2 189.0,899.1 193.1,899.0 197.1,892.2 201.1,892.1 205.1,892.0 209.2,891.9 213.2,898.6 217.2,898.5 221.3,898.5 225.3,898.4 229.3,898.3 233.3,898.2 237.4,898.2 241.4,898.1 245.4,898.0 249.5,897.9 253.5,897.9 257.5,897.8 261.5,897.7 265.6,897.6 269.6,897.5 273.6,897.5 277.7,897.4 281.7,897.3 285.7,897.2 289.8,897.2 293.8,897.1 297.8,897.0 301.8,896.9 305.9,896.8 309.9,896.8 313.9,896.7 318.0,896.6 322.0,896.5 326.0,896.5 330.0,896.4 334.1,896.3 338.1,896.2 342.1,896.2 346.2,896.1 350.2,896.0 354.2,895.9 358.2,895.8 362.3,895.8 366.3,895.7 370.3,895.6 374.4,895.5 378.4,895.5 382.4,895.4 386.4,895.3 390.5,895.2 394.5,895.2 398.5,895.1 402.6,888.2 406.6,888.2 410.6,888.1 414.6,888.0 418.7,894.7 422.7,894.6 426.7,894.5 430.8,894.5 434.8,894.4 438.8,894.3 442.9,894.2 446.9,894.1 450.9,894.1 454.9,894.0 459.0,893.9 463.0,893.8 467.0,893.8 471.1,893.7 475.1,893.6 479.1,893.5 483.1,893.5 487.2,893.4 491.2,893.3" fill="none" stroke="#f2b52b" stroke-width="2" stroke-linejoin="round"/>
<polyline points="491.2,903.6 495.2,903.4 499.3,903.2 503.3,903.1 507.3,902.9 511.3,902.8 515.4,902.6 519.4,902.4 523.4,902.3 527.5,902.1 531.5,901.9 535.5,901.8 539.5,901.6 543.6,901.4 547.6,901.3 551.6,901.1 555.7,900.9 559.7,900.8 563.7,900.6 567.8,900.4 571.8,900.3 575.8,900.1 579.8,899.9 583.9,899.8 587.9,899.6 591.9,899.4 596.0,899.3 600.0,899.1 604.0,899.0 608.0,901.5 612.1,901.4 616.1,901.2 620.1,901.0 624.2,898.1 628.2,898.0 632.2,897.8 636.2,897.6 640.3,897.5 644.3,897.3 648.3,897.1 652.4,897.0 656.4,896.8 660.4,896.6 664.4,896.5 668.5,896.3" fill="none" stroke="#f2b52b" stroke-width="2" stroke-linejoin="round"/>
<polyline points="72.2,1052.2 76.2,1052.2 80.2,1052.2 84.3,1052.2 88.3,1052.2 92.3,1052.2 96.4,1052.2 100.4,1052.2 104.4,1052.2 108.4,1052.2 112.5,1052.2 116.5,1052.2 120.5,1052.2 124.6,1052.2 128.6,1052.2 132.6,1052.2 136.6,1052.2 140.7,1052.2 144.7,1052.2 148.7,1052.2 152.8,1052.2 156.8,1052.2 160.8,1052.2 164.9,1052.2 168.9,1052.2 172.9,1052.2 176.9,1052.2 181.0,1052.2 185.0,1052.2 189.0,1052.2 193.1,1052.2 197.1,1049.5 201.1,1049.5 205.1,1049.5 209.2,1049.5 213.2,1052.2 217.2,1052.2 221.3,1052.2 225.3,1052.2 229.3,1052.2 233.3,1052.2 237.4,1052.2 241.4,1052.2 245.4,1052.2 249.5,1052.2 253.5,1052.2 257.5,1052.2 261.5,1052.2 265.6,1052.2 269.6,1052.2 273.6,1052.2 277.7,1052.2 281.7,1052.2 285.7,1052.2 289.8,1052.2 293.8,1052.2 297.8,1052.2 301.8,1052.2 305.9,1052.2 309.9,1052.2 313.9,1052.2 318.0,1052.2 322.0,1052.2 326.0,1052.2 330.0,1052.2 334.1,1052.2 338.1,1052.2 342.1,1052.2 346.2,1052.2 350.2,1052.2 354.2,1052.2 358.2,1052.2 362.3,1052.2 366.3,1052.2 370.3,1052.2 374.4,1052.2 378.4,1052.2 382.4,1052.2 386.4,1052.2 390.5,1052.2 394.5,1052.2 398.5,1052.2 402.6,1049.5 406.6,1049.5 410.6,1049.5 414.6,1049.5 418.7,1052.2 422.7,1052.2 426.7,1052.2 430.8,1052.2 434.8,1052.2 438.8,1052.2 442.9,1052.2 446.9,1052.2 450.9,1052.2 454.9,1052.2 459.0,1052.2 463.0,1052.2 467.0,1052.2 471.1,1052.2 475.1,1052.2 479.1,1052.2 483.1,1052.2 487.2,1052.2 491.2,1052.2" fill="none" stroke="#4a8bca" stroke-width="2" stroke-linejoin="round"/>
<polyline points="491.2,1041.1 495.2,1041.1 499.3,1041.2 503.3,1041.3 507.3,1041.3 511.3,1041.4 515.4,1041.5 519.4,1041.5 523.4,1041.6 527.5,1041.6 531.5,1041.7 535.5,1041.8 539.5,1041.8 543.6,1041.9 547.6,1041.9 551.6,1042.0 555.7,1042.1 559.7,1042.1 563.7,1042.2 567.8,1042.3 571.8,1042.3 575.8,1042.4 579.8,1042.4 583.9,1042.5 587.9,1042.6 591.9,1042.6 596.0,1042.7 600.0,1042.7 604.0,1042.8 608.0,1042.9 612.1,1042.9 616.1,1043.0 620.1,1043.1 624.2,1043.1 628.2,1043.2 632.2,1043.2 636.2,1043.3 640.3,1043.4 644.3,1043.4 648.3,1043.5 652.4,1043.5 656.4,1043.6 660.4,1043.7 664.4,1043.7 668.5,1043.8" fill="none" stroke="#4a8bca" stroke-width="2" stroke-linejoin="round"/>
<polyline points="72.2,1053.5 76.2,1053.5 80.2,1053.5 84.3,1053.5 88.3,1053.4 92.3,1053.4 96.4,1053.4 100.4,1053.4 104.4,1053.4 108.4,1053.4 112.5,1053.4 116.5,1053.4 120.5,1053.4 124.6,1053.3 128.6,1053.3 132.6,1053.3 136.6,1053.3 140.7,1053.3 144.7,1053.3 148.7,1053.3 152.8,1053.3 156.8,1053.2 160.8,1053.2 164.9,1053.2 168.9,1053.2 172.9,1053.2 176.9,1053.2 181.0,1053.2 185.0,1053.2 189.0,1053.1 193.1,1053.1 197.1,1051.9 201.1,1051.9 205.1,1051.8 209.2,1051.8 213.2,1053.1 217.2,1053.1 221.3,1053.1 225.3,1053.0 229.3,1053.0 233.3,1053.0 237.4,1053.0 241.4,1053.0 245.4,1053.0 249.5,1053.0 253.5,1053.0 257.5,1052.9 261.5,1052.9 265.6,1052.9 269.6,1052.9 273.6,1052.9 277.7,1052.9 281.7,1052.9 285.7,1052.9 289.8,1052.8 293.8,1052.8 297.8,1052.8 301.8,1052.8 305.9,1052.8 309.9,1052.8 313.9,1052.8 318.0,1052.8 322.0,1052.8 326.0,1052.7 330.0,1052.7 334.1,1052.7 338.1,1052.7 342.1,1052.7 346.2,1052.7 350.2,1052.7 354.2,1052.7 358.2,1052.6 362.3,1052.6 366.3,1052.6 370.3,1052.6 374.4,1052.6 378.4,1052.6 382.4,1052.6 386.4,1052.6 390.5,1052.5 394.5,1052.5 398.5,1052.5 402.6,1051.3 406.6,1051.2 410.6,1051.2 414.6,1051.2 418.7,1052.5 422.7,1052.4 426.7,1052.4 430.8,1052.4 434.8,1052.4 438.8,1052.4 442.9,1052.4 446.9,1052.4 450.9,1052.4 454.9,1052.4 459.0,1052.3 463.0,1052.3 467.0,1052.3 471.1,1052.3 475.1,1052.3 479.1,1052.3 483.1,1052.3 487.2,1052.3 491.2,1052.2" fill="none" stroke="#80bf45" stroke-width="2" stroke-linejoin="round"/>
<polyline points="491.2,1051.7 495.2,1051.8 499.3,1051.9 503.3,1052.0 507.3,1052.0 511.3,1052.1 515.4,1052.2 519.4,1052.3 523.4,1052.3 527.5,1052.4 531.5,1052.5 535.5,1052.6 539.5,1052.6 543.6,1052.7 547.6,1052.8 551.6,1052.9 555.7,1052.9 559.7,1053.0 563.7,1053.1 567.8,1053.1 571.8,1053.2 575.8,1053.3 579.8,1053.4 583.9,1053.4 587.9,1053.5 591.9,1053.6 596.0,1053.7 600.0,1053.7 604.0,1053.8 608.0,1057.4 612.1,1057.5 616.1,1057.5 620.1,1057.6 624.2,1054.2 628.2,1054.3 632.2,1054.3 636.2,1054.4 640.3,1054.5 644.3,1054.6 648.3,1054.6 652.4,1054.7 656.4,1054.8 660.4,1054.9 664.4,1054.9 668.5,1055.0" fill="none" stroke="#80bf45" stroke-width="2" stroke-linejoin="round"/>
<path d="M60.8,822.5 V1083.8 H680" fill="none" stroke="#4a4a4a" stroke-width="1.5" stroke-linejoin="round"/>
<line x1="53.2" x2="60.8" y1="1072.3" y2="1072.3" stroke="#333" stroke-width="1.4"/>
<text transform="translate(47.3,1072.3) rotate(-90)" text-anchor="middle" class="tk">0</text>
<line x1="53.2" x2="60.8" y1="1047.2" y2="1047.2" stroke="#333" stroke-width="1.4"/>
<text transform="translate(47.3,1047.2) rotate(-90)" text-anchor="middle" class="tk">.1</text>
<line x1="53.2" x2="60.8" y1="1022.2" y2="1022.2" stroke="#333" stroke-width="1.4"/>
<text transform="translate(47.3,1022.2) rotate(-90)" text-anchor="middle" class="tk">.2</text>
<line x1="53.2" x2="60.8" y1="997.1" y2="997.1" stroke="#333" stroke-width="1.4"/>
<text transform="translate(47.3,997.1) rotate(-90)" text-anchor="middle" class="tk">.3</text>
<line x1="53.2" x2="60.8" y1="972.0" y2="972.0" stroke="#333" stroke-width="1.4"/>
<text transform="translate(47.3,972.0) rotate(-90)" text-anchor="middle" class="tk">.4</text>
<line x1="53.2" x2="60.8" y1="946.9" y2="946.9" stroke="#333" stroke-width="1.4"/>
<text transform="translate(47.3,946.9) rotate(-90)" text-anchor="middle" class="tk">.5</text>
<line x1="53.2" x2="60.8" y1="921.9" y2="921.9" stroke="#333" stroke-width="1.4"/>
<text transform="translate(47.3,921.9) rotate(-90)" text-anchor="middle" class="tk">.6</text>
<line x1="53.2" x2="60.8" y1="896.8" y2="896.8" stroke="#333" stroke-width="1.4"/>
<text transform="translate(47.3,896.8) rotate(-90)" text-anchor="middle" class="tk">.7</text>
<line x1="53.2" x2="60.8" y1="871.7" y2="871.7" stroke="#333" stroke-width="1.4"/>
<text transform="translate(47.3,871.7) rotate(-90)" text-anchor="middle" class="tk">.8</text>
<line x1="53.2" x2="60.8" y1="846.7" y2="846.7" stroke="#333" stroke-width="1.4"/>
<text transform="translate(47.3,846.7) rotate(-90)" text-anchor="middle" class="tk">.9</text>
<line x1="88.3" x2="88.3" y1="1083.8" y2="1091.6" stroke="#333" stroke-width="1.4"/>
<text x="88.3" y="1104.3" text-anchor="middle" class="tk">-100</text>
<line x1="128.6" x2="128.6" y1="1083.8" y2="1091.6" stroke="#333" stroke-width="1.4"/>
<text x="128.6" y="1104.3" text-anchor="middle" class="tk">-90</text>
<line x1="168.9" x2="168.9" y1="1083.8" y2="1091.6" stroke="#333" stroke-width="1.4"/>
<text x="168.9" y="1104.3" text-anchor="middle" class="tk">-80</text>
<line x1="209.2" x2="209.2" y1="1083.8" y2="1091.6" stroke="#333" stroke-width="1.4"/>
<text x="209.2" y="1104.3" text-anchor="middle" class="tk">-70</text>
<line x1="249.5" x2="249.5" y1="1083.8" y2="1091.6" stroke="#333" stroke-width="1.4"/>
<text x="249.5" y="1104.3" text-anchor="middle" class="tk">-60</text>
<line x1="289.8" x2="289.8" y1="1083.8" y2="1091.6" stroke="#333" stroke-width="1.4"/>
<text x="289.8" y="1104.3" text-anchor="middle" class="tk">-50</text>
<line x1="330.0" x2="330.0" y1="1083.8" y2="1091.6" stroke="#333" stroke-width="1.4"/>
<text x="330.0" y="1104.3" text-anchor="middle" class="tk">-40</text>
<line x1="370.3" x2="370.3" y1="1083.8" y2="1091.6" stroke="#333" stroke-width="1.4"/>
<text x="370.3" y="1104.3" text-anchor="middle" class="tk">-30</text>
<line x1="410.6" x2="410.6" y1="1083.8" y2="1091.6" stroke="#333" stroke-width="1.4"/>
<text x="410.6" y="1104.3" text-anchor="middle" class="tk">-20</text>
<line x1="450.9" x2="450.9" y1="1083.8" y2="1091.6" stroke="#333" stroke-width="1.4"/>
<text x="450.9" y="1104.3" text-anchor="middle" class="tk">-10</text>
<line x1="491.2" x2="491.2" y1="1083.8" y2="1091.6" stroke="#333" stroke-width="1.4"/>
<text x="491.2" y="1104.3" text-anchor="middle" class="tk">0</text>
<line x1="531.5" x2="531.5" y1="1083.8" y2="1091.6" stroke="#333" stroke-width="1.4"/>
<text x="531.5" y="1104.3" text-anchor="middle" class="tk">10</text>
<line x1="571.8" x2="571.8" y1="1083.8" y2="1091.6" stroke="#333" stroke-width="1.4"/>
<text x="571.8" y="1104.3" text-anchor="middle" class="tk">20</text>
<line x1="612.1" x2="612.1" y1="1083.8" y2="1091.6" stroke="#333" stroke-width="1.4"/>
<text x="612.1" y="1104.3" text-anchor="middle" class="tk">30</text>
<line x1="652.4" x2="652.4" y1="1083.8" y2="1091.6" stroke="#333" stroke-width="1.4"/>
<text x="652.4" y="1104.3" text-anchor="middle" class="tk">40</text>
<text x="491.2" y="1080.6" text-anchor="middle" class="vi" style="font-size:10.35px">Vaccine incident</text>
<text x="370.3" y="1132" text-anchor="middle" class="wk">Week</text>
<text transform="translate(13.9,953.5) rotate(-90)" text-anchor="middle" class="yt" style="font-size:14.79px">Proportion of doses delayed &gt;3 months</text>
<text x="370.4" y="800" text-anchor="middle" class="ti">c. Weekly  proportions of doses delayed &gt;3 months by vaccine type</text>
</svg></body></html>
